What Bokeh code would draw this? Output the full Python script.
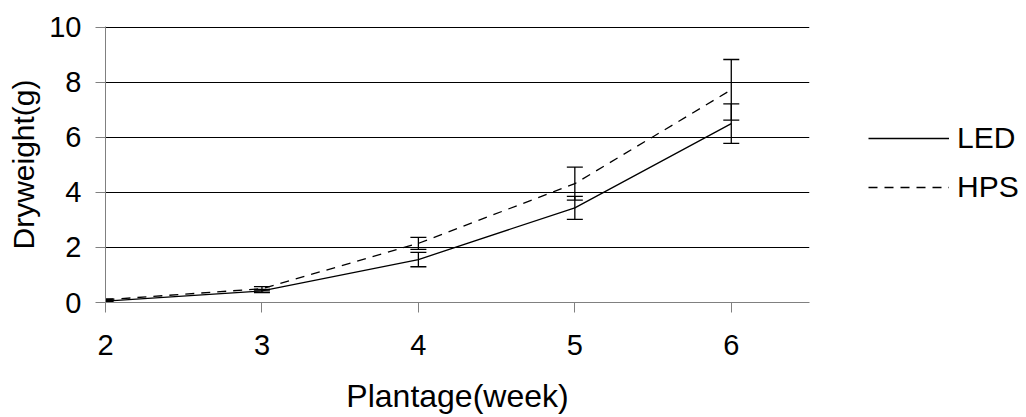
from bokeh.plotting import figure
from bokeh.layouts import row
from bokeh.models import Range1d, ColumnDataSource, Whisker, TeeHead, Legend, LegendItem, FixedTicker
from bokeh.embed import file_html
from bokeh.resources import INLINE

weeks = [2, 3, 4, 5, 6]
led = [0.05, 0.42, 1.56, 3.44, 6.5]
led_err = [0.02, 0.06, 0.26, 0.42, 0.72]
hps = [0.1, 0.5, 2.15, 4.32, 7.73]
hps_err = [0.03, 0.08, 0.22, 0.6, 1.1]
y_ticks = [0, 2, 4, 6, 8, 10]
x_title = "Plantage(week)"
y_title = "Dryweight(g)"
series_names = ["LED", "HPS"]

FONT = "Liberation Sans"

p = figure(width=810, height=417, output_backend="svg", toolbar_location=None,
           x_range=Range1d(2, 6.5), y_range=Range1d(0, 10.03),
           min_border_left=105, min_border_right=1, min_border_top=26, min_border_bottom=115)
p.outline_line_color = None
p.xgrid.grid_line_color = None
p.ygrid.grid_line_color = "#000000"
p.ygrid.grid_line_width = 1
p.ygrid.ticker = FixedTicker(ticks=y_ticks)

p.xaxis.ticker = FixedTicker(ticks=weeks)
p.yaxis.ticker = FixedTicker(ticks=y_ticks)
for ax in (p.xaxis[0], p.yaxis[0]):
    ax.axis_line_color = "#808080"
    ax.major_tick_line_color = "#808080"
    ax.minor_tick_line_color = None
    ax.major_tick_in = 0
    ax.major_tick_out = 10
    ax.major_label_text_font = FONT
    ax.major_label_text_font_size = "29px"
    ax.major_label_text_color = "#000000"
    ax.axis_label_text_font = FONT
    ax.axis_label_text_font_style = "normal"
    ax.axis_label_text_color = "#000000"
p.xaxis.major_label_standoff = 22
p.yaxis.major_label_standoff = 14
p.xaxis.axis_label = x_title
p.xaxis.axis_label_text_font_size = "32px"
p.xaxis.axis_label_standoff = 20
p.yaxis.axis_label = y_title
p.yaxis.axis_label_text_font_size = "30px"
p.yaxis.axis_label_standoff = 6

src = ColumnDataSource(data=dict(
    x=weeks, led=led, hps=hps,
    led_lo=[v - e for v, e in zip(led, led_err)], led_hi=[v + e for v, e in zip(led, led_err)],
    hps_lo=[v - e for v, e in zip(hps, hps_err)], hps_hi=[v + e for v, e in zip(hps, hps_err)],
))

LED_STYLE = dict(line_color="#000000", line_width=1.3)
HPS_STYLE = dict(line_color="#000000", line_width=1.3, line_dash="9 7")

p.line("x", "led", source=src, **LED_STYLE)
p.line("x", "hps", source=src, **HPS_STYLE)

for lo, hi in (("led_lo", "led_hi"), ("hps_lo", "hps_hi")):
    w = Whisker(base="x", lower=lo, upper=hi, source=src, line_color="#000000", line_width=1.3,
                upper_head=TeeHead(size=16, line_color="#000000", line_width=1.3),
                lower_head=TeeHead(size=16, line_color="#000000", line_width=1.3))
    p.add_layout(w)

# legend panel on the right (its own renderers sit outside its visible range)
lg = figure(width=216, height=417, output_backend="svg", toolbar_location=None,
            x_axis_type=None, y_axis_type=None, x_range=Range1d(0, 1), y_range=Range1d(-2, -1),
            min_border=0)
lg.outline_line_color = None
lg.xgrid.grid_line_color = None
lg.ygrid.grid_line_color = None
r_led = lg.line("x", "led", source=src, **LED_STYLE)
r_hps = lg.line("x", "hps", source=src, **HPS_STYLE)

legend = Legend(items=[LegendItem(label=series_names[0], renderers=[r_led]),
                       LegendItem(label=series_names[1], renderers=[r_hps])],
                location=(58, 98), border_line_color=None, background_fill_alpha=0,
                padding=0, margin=0, spacing=15, glyph_width=81, glyph_height=30,
                label_height=30, label_standoff=8, label_text_font=FONT,
                label_text_font_size="30px", label_text_color="#000000")
lg.add_layout(legend, "center")

layout = row(p, lg, spacing=0)
open("out.html", "w").write(file_html(layout, INLINE))
